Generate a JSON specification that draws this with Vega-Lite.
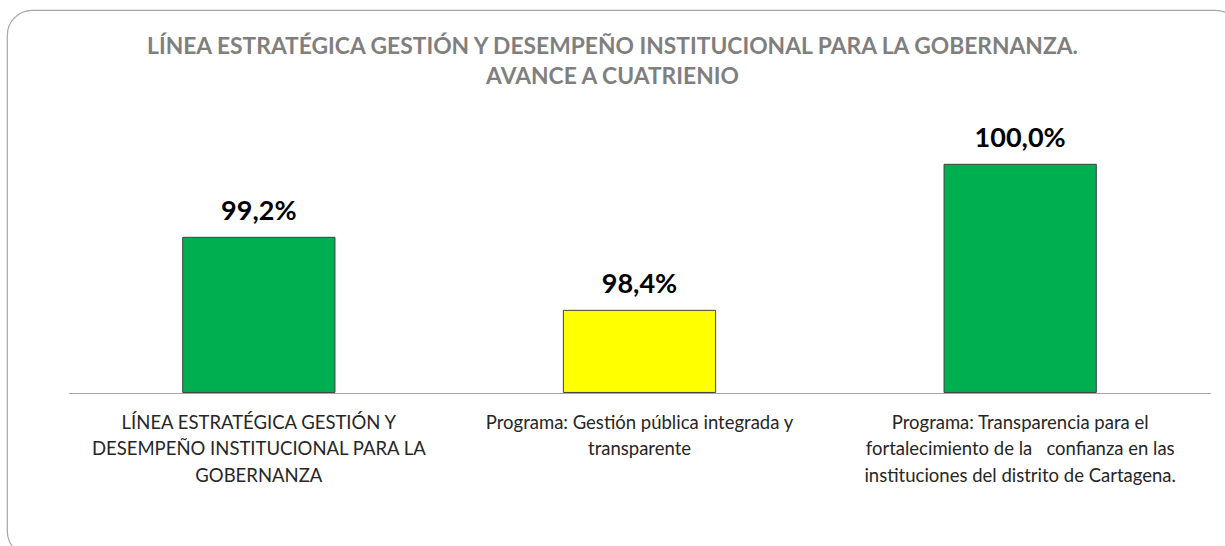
{
  "$schema": "https://vega.github.io/schema/vega-lite/v6.json",
  "width": 1233,
  "height": 546,
  "autosize": "none",
  "padding": {"left": 7, "top": 10, "right": 0, "bottom": 0},
  "background": "white",
  "config": {
    "font": "Lato",
    "view": {"stroke": "#a6a6a6", "strokeWidth": 1.2, "cornerRadius": 25}
  },
  "title": {
    "text": ["LÍNEA ESTRATÉGICA GESTIÓN Y DESEMPEÑO INSTITUCIONAL PARA LA GOBERNANZA.", "AVANCE A CUATRIENIO"],
    "orient": "top",
    "anchor": "middle",
    "frame": "group",
    "offset": 0,
    "dy": 79,
    "dx": -11,
    "font": "Lato",
    "fontSize": 22.8,
    "fontWeight": "bold",
    "color": "#7f7f7f",
    "lineHeight": 30
  },
  "data": {
    "values": [
      {"categoria": "LÍNEA ESTRATÉGICA GESTIÓN Y DESEMPEÑO INSTITUCIONAL PARA LA GOBERNANZA", "avance": 99.2},
      {"categoria": "Programa: Gestión pública integrada y transparente", "avance": 98.4},
      {"categoria": "Programa: Transparencia para el fortalecimiento de la   confianza en las instituciones del distrito de Cartagena.", "avance": 100.0}
    ]
  },
  "transform": [
    {"calculate": "replace(format(datum.avance, '.1f'), '.', ',') + '%'", "as": "etiqueta"}
  ],
  "encoding": {
    "x": {
      "field": "categoria",
      "type": "nominal",
      "sort": null,
      "scale": {"range": [61.5, 1203.5], "paddingInner": 0.6, "paddingOuter": 0.3},
      "axis": {
        "title": null,
        "orient": "bottom",
        "offset": -163,
        "domainColor": "#a6a6a6",
        "domainWidth": 1.2,
        "ticks": false,
        "labelAngle": 0,
        "labelFont": "Lato",
        "labelFontSize": 18.5,
        "labelColor": "#262626",
        "labelPadding": 20,
        "labelLineHeight": 26.7,
        "labelLimit": 500,
        "labelBaseline": "top",
        "labelExpr": "datum.value == 'LÍNEA ESTRATÉGICA GESTIÓN Y DESEMPEÑO INSTITUCIONAL PARA LA GOBERNANZA' ? ['LÍNEA ESTRATÉGICA GESTIÓN Y', 'DESEMPEÑO INSTITUCIONAL PARA LA', 'GOBERNANZA'] : datum.value == 'Programa: Gestión pública integrada y transparente' ? ['Programa: Gestión pública integrada y', 'transparente'] : ['Programa: Transparencia para el', 'fortalecimiento de la\u00a0\u00a0\u00a0confianza en las', 'instituciones del distrito de Cartagena.']"
      }
    },
    "y": {
      "field": "avance",
      "type": "quantitative",
      "scale": {"domain": [95.708, 101.691], "nice": false, "zero": false},
      "axis": null
    }
  },
  "layer": [
    {
      "mark": {"type": "bar", "stroke": "#404040", "strokeWidth": 1},
      "encoding": {
        "y2": {"datum": 97.5},
        "color": {
          "condition": {"test": "datum.avance < 99", "value": "#FFFF00"},
          "value": "#00B050"
        }
      }
    },
    {
      "mark": {"type": "text", "baseline": "alphabetic", "dy": -17, "fontSize": 27, "fontWeight": "bold", "color": "#000000", "font": "Lato"},
      "encoding": {
        "text": {"field": "etiqueta"}
      }
    }
  ]
}
